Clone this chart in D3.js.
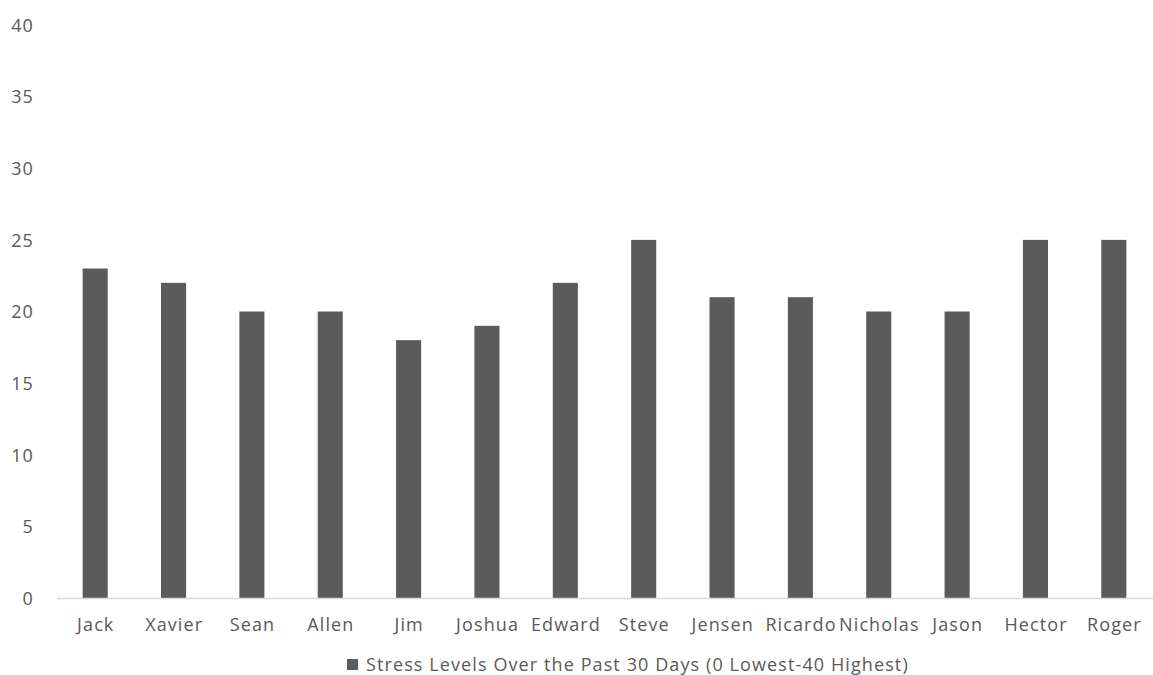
<!DOCTYPE html>
<html>
<head>
<meta charset="utf-8">
<script src="https://cdn.jsdelivr.net/npm/d3@7"></script>
<style>
  html, body { margin: 0; padding: 0; background: #fff; }
  svg { display: block; }
  text { font-family: "Open Sans", sans-serif; fill: #595959; letter-spacing: 1.1px; }
</style>
</head>
<body>
<svg id="chart" width="1153" height="675"></svg>
<script>
// Stress scores per person, past 30 days
const names = ["Jack", "Xavier", "Sean", "Allen", "Jim", "Joshua", "Edward", "Steve",
               "Jensen", "Ricardo", "Nicholas", "Jason", "Hector", "Roger"];
const stress = [23, 22, 20, 20, 18, 19, 22, 25, 21, 21, 20, 20, 25, 25];
const yTicks = [0, 5, 10, 15, 20, 25, 30, 35, 40];
const seriesName = "Stress Levels Over the Past 30 Days (0 Lowest-40 Highest)";

const svg = d3.select("#chart");
const W = 1153;
const FS = 18;

const x = d3.scaleBand()
  .domain(names)
  .range([56, 1153])
  .paddingInner(0.68)
  .paddingOuter(0.34);

const y = d3.scaleLinear()
  .domain([0, 40])
  .range([598, 25]);

// y tick labels (no gridlines, no axis line)
const yAxis = d3.axisLeft(y).tickValues(yTicks).tickSize(0).tickPadding(0);
svg.append("g")
  .attr("transform", "translate(34,0)")
  .call(yAxis)
  .call(g => g.select(".domain").remove())
  .call(g => g.selectAll("text")
    .attr("font-size", FS)
    .attr("font-family", "Open Sans, sans-serif")
    .attr("fill", "#595959")
    .attr("dy", "0.35em"));

// bars
svg.append("g")
  .selectAll("rect")
  .data(names)
  .join("rect")
  .attr("x", d => x(d))
  .attr("width", x.bandwidth())
  .attr("y", (d, i) => y(stress[i]))
  .attr("height", (d, i) => y(0) - y(stress[i]))
  .attr("fill", "#5b5b5b");

// category axis along the zero line
const xAxis = d3.axisBottom(x).tickSize(0).tickPadding(0);
svg.append("g")
  .attr("transform", `translate(0,${y(0)})`)
  .call(xAxis)
  .call(g => g.select(".domain")
    .attr("d", `M57,0.5H${W}`)
    .attr("stroke", "#d9d9d9")
    .attr("stroke-width", 1.5))
  .call(g => g.selectAll("text")
    .attr("font-size", FS)
    .attr("font-family", "Open Sans, sans-serif")
    .attr("fill", "#595959")
    .attr("x", 0.6)
    .attr("y", 33)
    .attr("dy", 0));

// legend
const legend = svg.append("g").attr("transform", "translate(347,665)");
legend.append("rect")
  .attr("x", 0).attr("y", -6)
  .attr("width", 11).attr("height", 11)
  .attr("fill", "#5b5b5b");
legend.append("text")
  .attr("x", 19)
  .attr("y", 0)
  .attr("dy", "0.35em")
  .attr("font-size", FS)
  .text(seriesName);
</script>
</body>
</html>
